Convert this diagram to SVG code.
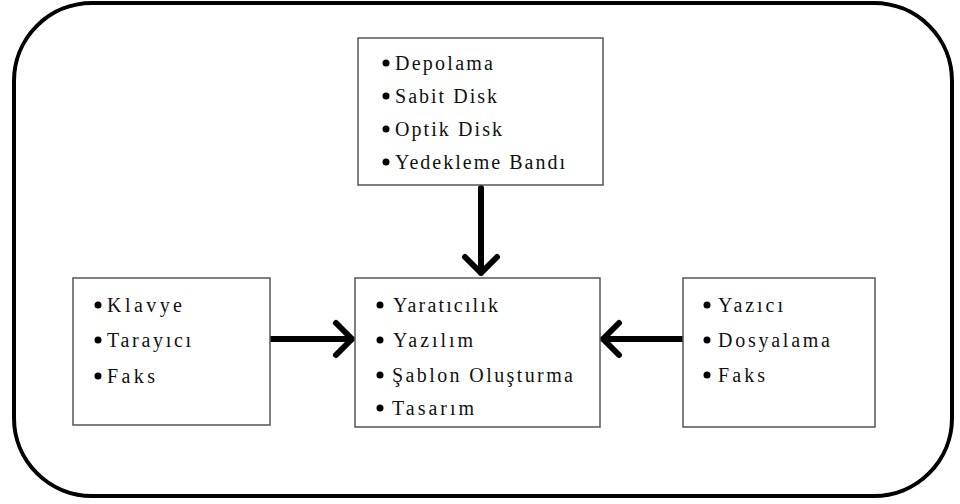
<svg xmlns="http://www.w3.org/2000/svg" width="960" height="504" viewBox="0 0 960 504">
<style>
.box{fill:#fff;stroke:#555;stroke-width:1.5}
.t{font-family:"Liberation Serif","Times New Roman",serif;font-size:20px;fill:#111}
.b{fill:#000}
.c{stroke:#000;stroke-width:6;fill:none;stroke-linecap:round;stroke-linejoin:round}
</style>
<rect x="0" y="0" width="960" height="504" fill="#fff"/>
<rect x="14" y="3" width="938" height="493" rx="78" ry="78" fill="#fff" stroke="#000" stroke-width="4"/>
<g id="connectors">
<path class="c" d="M481 188 V273 M465 257 L481 273 L497 257"/>
<path class="c" d="M271 339 H352 M336 323 L352 339 L336 355"/>
<path class="c" d="M682 339 H603 M619 323 L603 339 L619 355"/>
</g>
<g id="storage">
<rect class="box" x="358" y="38" width="245" height="147"/>
<circle class="b" cx="386" cy="63" r="3.5"/><text class="t" x="395" y="70" textLength="98" lengthAdjust="spacing">Depolama</text>
<circle class="b" cx="386" cy="96" r="3.5"/><text class="t" x="395" y="103" textLength="102" lengthAdjust="spacing">Sabit Disk</text>
<circle class="b" cx="386" cy="129" r="3.5"/><text class="t" x="395" y="136" textLength="107" lengthAdjust="spacing">Optik Disk</text>
<circle class="b" cx="386" cy="162" r="3.5"/><text class="t" x="395" y="169" textLength="170" lengthAdjust="spacing">Yedekleme Bandı</text>
</g>
<g id="input">
<rect class="box" x="73" y="278" width="197" height="147"/>
<circle class="b" cx="98" cy="305" r="3.5"/><text class="t" x="107" y="312" textLength="75" lengthAdjust="spacing">Klavye</text>
<circle class="b" cx="98" cy="340" r="3.5"/><text class="t" x="107" y="347" textLength="84" lengthAdjust="spacing">Tarayıcı</text>
<circle class="b" cx="98" cy="376" r="3.5"/><text class="t" x="107" y="383" textLength="48" lengthAdjust="spacing">Faks</text>
</g>
<g id="process">
<rect class="box" x="355" y="278" width="245" height="149"/>
<circle class="b" cx="380" cy="305" r="3.5"/><text class="t" x="393" y="312" textLength="105" lengthAdjust="spacing">Yaratıcılık</text>
<circle class="b" cx="380" cy="340" r="3.5"/><text class="t" x="393" y="347" textLength="80" lengthAdjust="spacing">Yazılım</text>
<circle class="b" cx="380" cy="375" r="3.5"/><text class="t" x="392" y="382" textLength="181" lengthAdjust="spacing">Şablon Oluşturma</text>
<circle class="b" cx="380" cy="408" r="3.5"/><text class="t" x="392" y="415" textLength="82" lengthAdjust="spacing">Tasarım</text>
</g>
<g id="output">
<rect class="box" x="683" y="278" width="192" height="149"/>
<circle class="b" cx="707" cy="305" r="3.5"/><text class="t" x="718" y="312" textLength="65" lengthAdjust="spacing">Yazıcı</text>
<circle class="b" cx="707" cy="340" r="3.5"/><text class="t" x="718" y="347" textLength="112" lengthAdjust="spacing">Dosyalama</text>
<circle class="b" cx="707" cy="375" r="3.5"/><text class="t" x="718" y="382" textLength="47" lengthAdjust="spacing">Faks</text>
</g>
</svg>
